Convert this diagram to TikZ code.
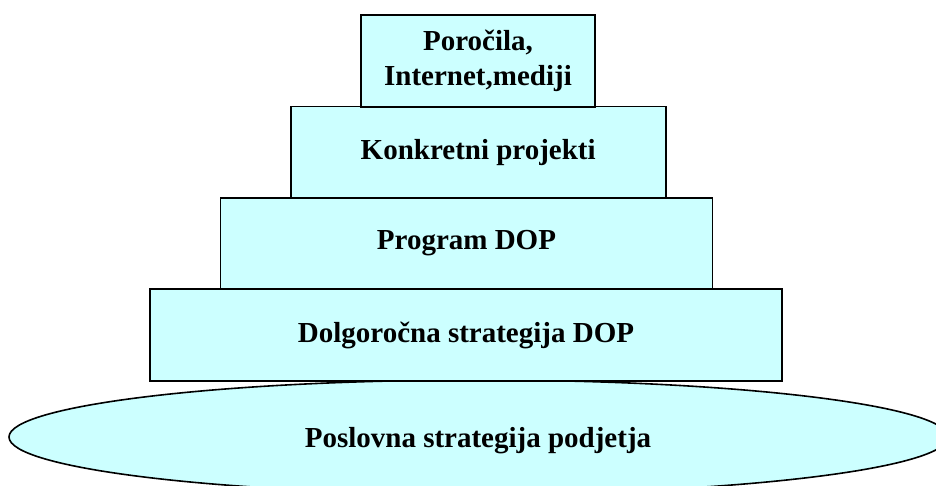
\documentclass[tikz,border=0pt]{standalone}
\usepackage{fontspec}
\setmainfont{Liberation Serif}
\usetikzlibrary{shapes.geometric}
\definecolor{tierfill}{HTML}{CCFFFF}
\tikzset{
  tier/.style={draw=black, line width=1.6pt, fill=tierfill, rectangle,
    inner sep=0pt, align=center,
    font=\fontsize{29}{35}\selectfont\bfseries},
  base/.style={draw=black, line width=1.6pt, fill=tierfill, ellipse,
    inner sep=0pt, font=\fontsize{29}{35}\selectfont\bfseries}
}
\begin{document}
\begin{tikzpicture}[x=1pt, y=-1pt]
  \useasboundingbox (0,0) rectangle (936,486);
  \clip (0,0) rectangle (936,486);
  % foundation ellipse, running past the right and bottom edges
  \node[base, minimum width=939pt, minimum height=114pt] (base) at (478.5,437) {};
  \node[font=\fontsize{29}{35}\selectfont\bfseries] (basetxt) at (478,441) {Poslovna strategija podjetja};
  % stacked tiers, widest at the bottom
  \node[tier, minimum width=632pt, minimum height=92pt] (t4) at (466,335) {Dolgoročna strategija DOP};
  \node[tier, minimum width=492pt, minimum height=91pt] (t3) at (466.5,243.5) {Program DOP};
  \node[tier, minimum width=375pt, minimum height=91pt] (t2) at (478.2,152.2) {Konkretni projekti};
  \node[tier, minimum width=234pt, minimum height=92pt] (t1) at (478,61) {Poročila,\\Internet,mediji};
\end{tikzpicture}
\end{document}
